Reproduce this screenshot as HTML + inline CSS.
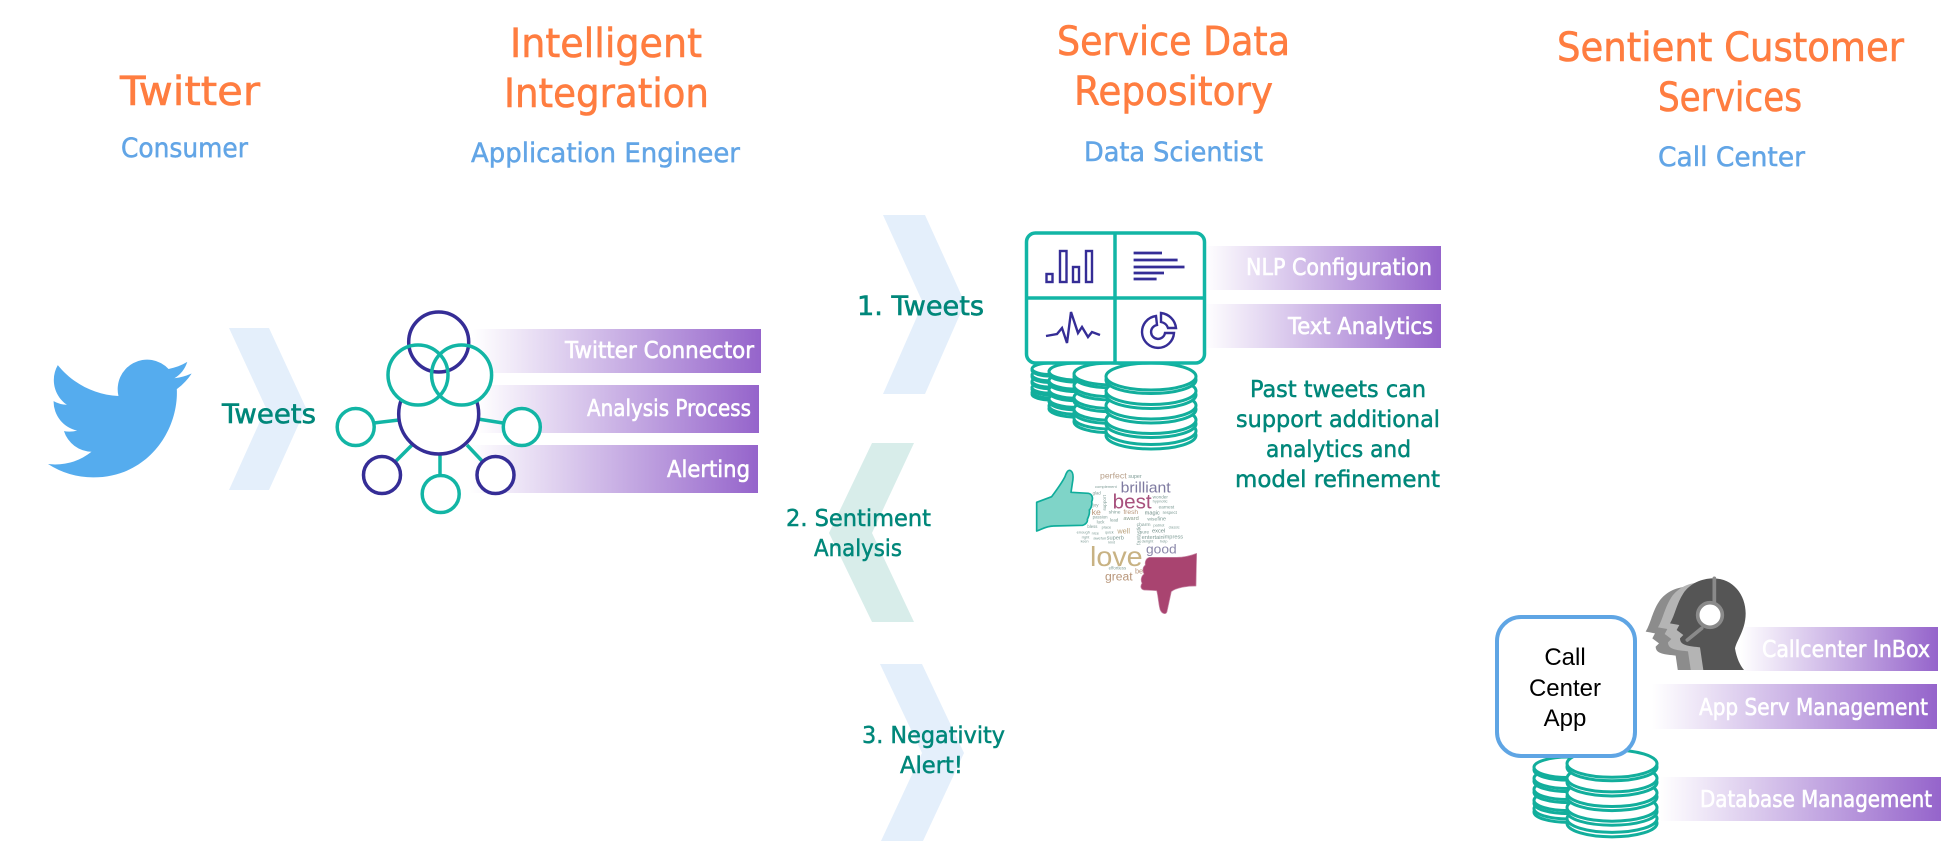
<!DOCTYPE html>
<html><head><meta charset="utf-8"><style>
html,body{margin:0;padding:0;background:#fff}
svg{display:block}
text{font-family:"DejaVu Sans","Liberation Sans",sans-serif}
.h{font-size:40px;fill:#FF7D40;stroke:#FF7D40;stroke-width:.6}
.s{font-size:27px;fill:#62A5E6;stroke:#62A5E6;stroke-width:.5}
.t{font-size:23px;fill:#00877A;stroke:#00877A;stroke-width:.5}
.tb{font-size:27px;fill:#00877A;stroke:#00877A;stroke-width:.6}
.b{font-size:23px;fill:#fff;stroke:#fff;stroke-width:.6}
.w{font-family:"Liberation Sans",sans-serif}
</style></head><body>
<svg width="1945" height="841" viewBox="0 0 1945 841" xmlns="http://www.w3.org/2000/svg">
<defs>
<linearGradient id="g" x1="0" x2="1" y1="0" y2="0"><stop offset="0" stop-color="#fff"/><stop offset="1" stop-color="#9564CB"/></linearGradient>
<g id="stack" fill="#fff" stroke="#12AE9C" stroke-width="3">
<ellipse vector-effect="non-scaling-stroke" cx="45" cy="72.5" rx="45" ry="13.5"/>
<ellipse vector-effect="non-scaling-stroke" cx="45" cy="68" rx="45" ry="13.5"/>
<ellipse vector-effect="non-scaling-stroke" cx="45" cy="61" rx="45" ry="13.5"/>
<ellipse vector-effect="non-scaling-stroke" cx="45" cy="57" rx="45" ry="13.5"/>
<ellipse vector-effect="non-scaling-stroke" cx="45" cy="46.5" rx="45" ry="13.5"/>
<ellipse vector-effect="non-scaling-stroke" cx="45" cy="42.5" rx="45" ry="13.5"/>
<ellipse vector-effect="non-scaling-stroke" cx="45" cy="32" rx="45" ry="13.5"/>
<ellipse vector-effect="non-scaling-stroke" cx="45" cy="28" rx="45" ry="13.5"/>
<ellipse vector-effect="non-scaling-stroke" cx="45" cy="17" rx="45" ry="13.5"/>
<ellipse vector-effect="non-scaling-stroke" cx="45" cy="13.5" rx="45" ry="13.5"/>
</g>
<path id="head" d="M700,55C760,55 797,105 797,160C797,210 770,240 765,265C770,295 780,315 792,330L670,330L660,262C630,258 600,258 600,235L610,225L590,210L598,195L570,190C585,165 590,130 610,100C630,70 665,55 700,55Z"/>
<clipPath id="hc"><rect x="400" y="0" width="500" height="330"/></clipPath>
</defs>

<!-- headings -->
<text class="h" x="120" y="105" textLength="140" lengthAdjust="spacingAndGlyphs">Twitter</text>
<text class="s" x="121" y="157" textLength="127" lengthAdjust="spacingAndGlyphs">Consumer</text>
<text class="h" x="510" y="57" textLength="192" lengthAdjust="spacingAndGlyphs">Intelligent</text>
<text class="h" x="504" y="107" textLength="205" lengthAdjust="spacingAndGlyphs">Integration</text>
<text class="s" x="471" y="162" textLength="269" lengthAdjust="spacingAndGlyphs">Application Engineer</text>
<text class="h" x="1057" y="55" textLength="233" lengthAdjust="spacingAndGlyphs">Service Data</text>
<text class="h" x="1074" y="105" textLength="199" lengthAdjust="spacingAndGlyphs">Repository</text>
<text class="s" x="1084" y="161" textLength="179" lengthAdjust="spacingAndGlyphs">Data Scientist</text>
<text class="h" x="1557" y="61" textLength="347" lengthAdjust="spacingAndGlyphs">Sentient Customer</text>
<text class="h" x="1658" y="111" textLength="144" lengthAdjust="spacingAndGlyphs">Services</text>
<text class="s" x="1658" y="166" textLength="147" lengthAdjust="spacingAndGlyphs">Call Center</text>

<!-- bird -->
<path transform="translate(48,346) scale(5.98,6.04)" fill="#55ACEE" d="M23.953 4.57a10 10 0 01-2.825.775 4.958 4.958 0 002.163-2.723c-.951.555-2.005.959-3.127 1.184a4.92 4.92 0 00-8.384 4.482C7.69 8.095 4.067 6.13 1.64 3.162a4.822 4.822 0 00-.666 2.475c0 1.71.87 3.213 2.188 4.096a4.904 4.904 0 01-2.228-.616v.06a4.923 4.923 0 003.946 4.827 4.996 4.996 0 01-2.212.085 4.936 4.936 0 004.604 3.417 9.867 9.867 0 01-6.102 2.105c-.39 0-.779-.023-1.17-.067a13.995 13.995 0 007.557 2.209c9.053 0 13.998-7.496 13.998-13.985 0-.21 0-.42-.015-.63A9.935 9.935 0 0024 4.59z"/>

<!-- chevrons -->
<polygon fill="#E4EFFB" points="229,328 269,328 306,408 269,490 229,490 266,408"/>
<polygon fill="#E4EFFB" points="883,215 925,215 965,303 925,394 883,394 923,303"/>
<polygon fill="#D8EDEA" points="872,443 914,443 872,533 914,622 872,622 829,533"/>
<polygon fill="#E4EFFB" points="880,664 922,664 964,753 923,841 881,841 922,753"/>

<text class="tb" x="222" y="423" textLength="94" lengthAdjust="spacingAndGlyphs">Tweets</text>
<text class="tb" x="857" y="315" textLength="127" lengthAdjust="spacingAndGlyphs">1. Tweets</text>
<text class="t" x="786" y="526" textLength="145" lengthAdjust="spacingAndGlyphs">2. Sentiment</text>
<text class="t" x="814" y="556" textLength="88" lengthAdjust="spacingAndGlyphs">Analysis</text>
<text class="t" x="862" y="743" textLength="143" lengthAdjust="spacingAndGlyphs">3. Negativity</text>
<text class="t" x="900" y="773" textLength="63" lengthAdjust="spacingAndGlyphs">Alert!</text>

<!-- bars -->
<rect x="473" y="329" width="288" height="44" fill="url(#g)"/>
<rect x="477" y="385" width="282" height="48" fill="url(#g)"/>
<rect x="470" y="445" width="288" height="48" fill="url(#g)"/>
<rect x="1204" y="246" width="237" height="44" fill="url(#g)"/>
<rect x="1204" y="304" width="237" height="44" fill="url(#g)"/>
<rect x="1740" y="627" width="198" height="44" fill="url(#g)"/>
<rect x="1652" y="684" width="285" height="45" fill="url(#g)"/>
<rect x="1660" y="777" width="281" height="44" fill="url(#g)"/>

<!-- network -->
<g stroke="#12B5A5" stroke-width="3.5" fill="none">
<line x1="374" y1="423" x2="399" y2="420"/><line x1="478" y1="419" x2="503" y2="423"/>
<line x1="395" y1="462" x2="412" y2="445"/><line x1="440" y1="455" x2="440" y2="476"/><line x1="467" y1="445" x2="483" y2="462"/>
</g>
<circle cx="438.7" cy="414" r="40" fill="#fff" stroke="#352D96" stroke-width="3.5"/>
<circle cx="418" cy="375" r="30" fill="#fff"/><circle cx="461.6" cy="375" r="30" fill="#fff"/>
<circle cx="438.7" cy="342" r="30" fill="none" stroke="#352D96" stroke-width="3.5"/>
<circle cx="418" cy="375" r="30" fill="none" stroke="#12B5A5" stroke-width="3.5"/>
<circle cx="461.6" cy="375" r="30" fill="none" stroke="#12B5A5" stroke-width="3.5"/>
<circle cx="355.7" cy="427" r="18.5" fill="#fff" stroke="#12B5A5" stroke-width="3.5"/>
<circle cx="521.8" cy="427" r="18.5" fill="#fff" stroke="#12B5A5" stroke-width="3.5"/>
<circle cx="382" cy="475" r="18.5" fill="#fff" stroke="#352D96" stroke-width="3.5"/>
<circle cx="440.7" cy="494" r="18.5" fill="#fff" stroke="#12B5A5" stroke-width="3.5"/>
<circle cx="495.5" cy="475" r="18.5" fill="#fff" stroke="#352D96" stroke-width="3.5"/>

<!-- bar labels -->
<text class="b" x="565" y="358" textLength="189" lengthAdjust="spacingAndGlyphs">Twitter Connector</text>
<text class="b" x="587" y="416" textLength="164" lengthAdjust="spacingAndGlyphs">Analysis Process</text>
<text class="b" x="667" y="477" textLength="83" lengthAdjust="spacingAndGlyphs">Alerting</text>
<text class="b" x="1246" y="275" textLength="186" lengthAdjust="spacingAndGlyphs">NLP Configuration</text>
<text class="b" x="1288" y="334" textLength="145" lengthAdjust="spacingAndGlyphs">Text Analytics</text>
<text class="b" x="1762" y="657" textLength="168" lengthAdjust="spacingAndGlyphs">Callcenter InBox</text>
<text class="b" x="1699" y="715" textLength="229" lengthAdjust="spacingAndGlyphs">App Serv Management</text>
<text class="b" x="1700" y="807" textLength="232" lengthAdjust="spacingAndGlyphs">Database Management</text>

<!-- DB stacks -->
<use href="#stack" transform="translate(1032,363) scale(.43)"/>
<use href="#stack" transform="translate(1049,363) scale(.63)"/>
<use href="#stack" transform="translate(1074,363) scale(.81)"/>
<use href="#stack" transform="translate(1106,363)"/>
<use href="#stack" transform="translate(1534,757) scale(.76)"/>
<use href="#stack" transform="translate(1567,750) scale(1,1.01)"/>

<!-- grid -->
<rect x="1026.5" y="233" width="178" height="130" rx="9" fill="#fff" stroke="#12B5A5" stroke-width="3.5"/>
<path d="M1115,233V363M1026.5,298H1204.5" stroke="#12B5A5" stroke-width="3.5" fill="none"/>
<g fill="none" stroke="#352D96" stroke-width="2.4">
<rect x="1046.5" y="274" width="6" height="8"/><rect x="1060" y="251" width="6.5" height="31"/><rect x="1073" y="267" width="6" height="15"/><rect x="1086" y="251" width="6" height="31"/>
<path stroke-width="2.8" d="M1133.6,253H1162M1133.6,260H1177.6M1133.6,267H1184.5M1133.6,273H1164M1133.6,279H1156.6"/>
<path d="M1046,336L1057,334L1062,328L1067,343L1071,312L1078,333L1082,327L1088,337L1092,332L1100,335"/>
<path d="M1156,316A16,16 0 1 0 1174,333L1165,333A7,7 0 1 1 1157,325Z"/>
<path d="M1161,313A17,17 0 0 1 1176,328L1168,328A9,9 0 0 0 1161,322Z"/>
</g>

<!-- right text -->
<text class="t" x="1250" y="397" textLength="176" lengthAdjust="spacingAndGlyphs">Past tweets can</text>
<text class="t" x="1236" y="427" textLength="204" lengthAdjust="spacingAndGlyphs">support additional</text>
<text class="t" x="1266" y="457" textLength="145" lengthAdjust="spacingAndGlyphs">analytics and</text>
<text class="t" x="1235" y="487" textLength="205" lengthAdjust="spacingAndGlyphs">model refinement</text>

<!-- word cloud -->
<g transform="translate(1010,450) scale(.33333)">
<g class="w" fill="#7F9C96">
<text class="w" x="355" y="84" font-size="16">super</text>
<text class="w" x="255" y="114" font-size="12">complement</text>
<text class="w" x="248" y="134" font-size="13">glad</text>
<text class="w" x="428" y="145" font-size="14">wonder</text>
<text class="w" x="428" y="157" font-size="12">hypnotic</text>
<text class="w" x="446" y="176" font-size="14">earnest</text>
<text class="w" x="458" y="192" font-size="13">respect</text>
<text class="w" x="404" y="193" font-size="17" fill="#6E8B86">magic</text>
<text class="w" x="296" y="190" font-size="15">shine</text>
<text class="w" x="248" y="170" font-size="14">joy</text>
<text class="w" x="340" y="192" font-size="20" fill="#B8967A">fresh</text>
<text class="w" x="340" y="210" font-size="17" fill="#8E9F8E">award</text>
<text class="w" x="412" y="212" font-size="15">wise</text>
<text class="w" x="442" y="212" font-size="16">fine</text>
<text class="w" x="248" y="205" font-size="13">passion</text>
<text class="w" x="300" y="214" font-size="13">lead</text>
<text class="w" x="260" y="220" font-size="13">luck</text>
<text class="w" x="380" y="228" font-size="15">charm</text>
<text class="w" x="430" y="230" font-size="12">patriot</text>
<text class="w" x="476" y="236" font-size="11">classic</text>
<text class="w" x="232" y="234" font-size="13">bless</text>
<text class="w" x="275" y="235" font-size="12">place</text>
<text class="w" x="426" y="248" font-size="17" fill="#6E8B86">excel</text>
<text class="w" x="390" y="250" font-size="14">sure</text>
<text class="w" x="200" y="250" font-size="12">enough</text>
<text class="w" x="245" y="254" font-size="12">nice</text>
<text class="w" x="285" y="250" font-size="11">quick</text>
<text class="w" x="215" y="266" font-size="12">right</text>
<text class="w" x="250" y="268" font-size="12">awe</text>
<text class="w" x="272" y="268" font-size="12">fun</text>
<text class="w" x="290" y="268" font-size="17" fill="#7F9C96">superb</text>
<text class="w" x="395" y="267" font-size="17">entertain</text>
<text class="w" x="460" y="266" font-size="17">impress</text>
<text class="w" x="395" y="278" font-size="12">delight</text>
<text class="w" x="450" y="278" font-size="12">help</text>
<text class="w" x="212" y="278" font-size="11">keen</text>
<text class="w" x="295" y="280" font-size="11">kind</text>
<text class="w" x="296" y="358" font-size="13">effortless</text>
<text class="w" transform="translate(288,182) rotate(-90)" x="0" y="0" font-size="14">support</text>
<text class="w" transform="translate(392,285) rotate(-90)" x="0" y="0" font-size="16">fantastic</text>
</g>
<text class="w" x="270" y="85" font-size="24" fill="#B8A08A" textLength="80" lengthAdjust="spacingAndGlyphs">perfect</text>
<text class="w" x="332" y="128" font-size="44" fill="#7E7AA0" textLength="150" lengthAdjust="spacingAndGlyphs">brilliant</text>
<text class="w" x="308" y="175" font-size="60" fill="#A8527E" textLength="117" lengthAdjust="spacingAndGlyphs">best</text>
<text class="w" x="245" y="195" font-size="26" fill="#B8967A">ke</text>
<text class="w" x="322" y="250" font-size="22" fill="#B8A07A">well</text>
<text class="w" x="240" y="348" font-size="84" fill="#C8B283" textLength="158" lengthAdjust="spacingAndGlyphs">love</text>
<text class="w" x="408" y="310" font-size="40" fill="#8B88AA" textLength="92" lengthAdjust="spacingAndGlyphs">good</text>
<text class="w" x="285" y="392" font-size="36" fill="#B8967A" textLength="83" lengthAdjust="spacingAndGlyphs">great</text>
<text class="w" x="375" y="370" font-size="22" fill="#B8967A">be</text>
<path fill="#7FD4C8" stroke="#0FAD9B" stroke-width="5" stroke-linejoin="round" d="M80,157L125,140C140,120 155,100 165,80C170,65 175,58 182,62C192,68 190,85 187,100L183,127L235,130C247,132 250,145 245,155C247,165 243,175 238,180C240,192 235,202 232,208C234,216 226,224 218,226L130,228C110,228 95,238 80,243Z"/>
<path fill="#A94470" stroke="#C98BA8" stroke-width="2" stroke-linejoin="round" d="M560,310C540,318 520,322 500,322L418,322C408,325 404,335 406,345C396,352 398,365 402,372C392,380 392,392 396,400C390,408 392,418 402,420L440,422C445,440 445,460 450,478C455,492 468,495 471,485L484,425C500,412 535,408 558,408Z"/>
</g>

<!-- call centre -->
<rect x="1497" y="617" width="138" height="139" rx="24" fill="#fff" stroke="#5FA5E4" stroke-width="4"/>
<g font-size="24" fill="#000" text-anchor="middle">
<text class="w" x="1565" y="665">Call</text>
<text class="w" x="1565" y="696">Center</text>
<text class="w" x="1565" y="726">App</text>
</g>
<g transform="translate(1480,560) scale(.33333)">
<g clip-path="url(#hc)">
<use href="#head" transform="translate(-73,25)" fill="#8C8C8C"/>
<use href="#head" transform="translate(-36,12)" fill="#B4B4B4"/>
<use href="#head" fill="#555555"/>
</g>
<path d="M703,55V125M665,205L622,240" stroke="#8A8A8A" stroke-width="11" fill="none" stroke-linecap="round"/>
<circle cx="690" cy="165" r="37" fill="#fff" stroke="#8A8A8A" stroke-width="11"/>
</g>
</svg>
</body></html>
